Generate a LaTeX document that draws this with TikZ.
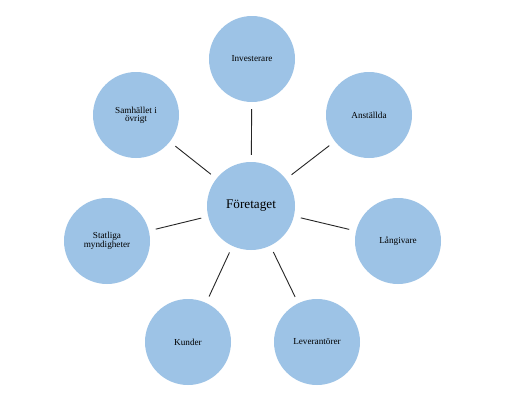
\documentclass[tikz,border=0pt]{standalone}
\usepackage{fontspec}
\setmainfont{Liberation Serif}
\definecolor{circfill}{RGB}{157,195,230}
\begin{document}
\begin{tikzpicture}[x=1pt,y=-1pt,
  sat/.style={circle,fill=circfill,minimum size=86pt,inner sep=0pt,align=center,font=\fontsize{9.2}{8}\selectfont},
  hub/.style={circle,fill=circfill,minimum size=88pt,inner sep=0pt,font=\fontsize{13.2}{15}\selectfont},
  link/.style={draw=black!85,line width=0.9pt,shorten >=7pt,shorten <=7pt}]
\useasboundingbox[fill=white] (0,0) rectangle (506,410);
\node[hub] (c) at (251,206) {Företaget};
\node[sat] (inv) at (252,59) {Investerare};
\node[sat] (ans) at (369,115) {Anställda};
\node[sat] (lan) at (398,241) {Långivare};
\node[sat] (lev) at (317,342) {Leverantörer};
\node[sat] (kun) at (188,342) {Kunder};
\node[sat] (sta) at (107,241) {Statliga\\myndigheter};
\node[sat] (sam) at (136,115) {Samhället i\\övrigt};
\foreach \n in {inv,ans,lan,lev,kun,sta,sam}
  \draw[link] (c) -- (\n);
\end{tikzpicture}
\end{document}
